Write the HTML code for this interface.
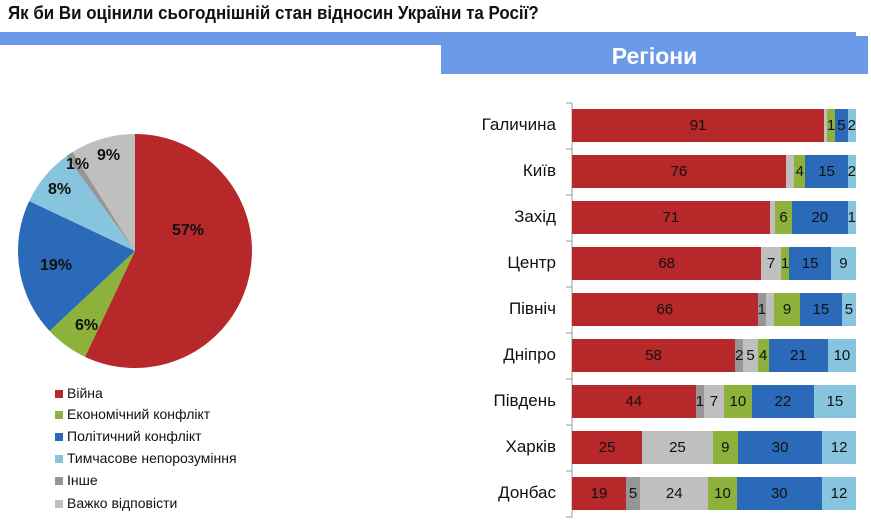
<!DOCTYPE html>
<html><head><meta charset="utf-8"><style>
body{margin:0;width:871px;height:520px;background:#fff;font-family:"Liberation Sans",sans-serif;position:relative;overflow:hidden}
.t{position:absolute;left:8px;top:3px;font-size:18px;font-weight:bold;color:#111;transform:scaleX(.94);transform-origin:left}
.band{position:absolute;left:0;top:32px;width:856px;height:13px;background:#6b9be8}
.box{position:absolute;left:441px;top:36px;width:427px;height:38px;background:#6b9be8;color:#fff;font-weight:bold;font-size:23px;text-align:center;line-height:40px}
.lab{position:absolute;width:200px;left:356px;text-align:right;font-size:17px;color:#111}
.bar{position:absolute;left:572px;width:284px;height:33px;display:flex}
.bar div{height:100%;display:flex;align-items:center;justify-content:center;font-size:15px;color:#111;overflow:visible;white-space:nowrap}
.r{background:#b7282a}.d{background:#969696}.l{background:#bfbfbf}.g{background:#8cb23c}.b{background:#2a6ab8}.c{background:#86c5dd}
.lg{position:absolute;left:55px;font-size:14px;color:#111}
.lg span{display:inline-block;width:8px;height:8px;margin-right:4px}
.pl{position:absolute;font-size:16px;font-weight:bold;color:#111}
</style></head><body>
<div class="t">Як би Ви оцінили сьогоднішній стан відносин України та Росії?</div>
<div class="band"></div>
<div class="box">Регіони</div>
<svg style="position:absolute;left:0;top:0" width="871" height="520">
<g transform="translate(135,251) rotate(-90)" fill="none" stroke-width="117">
<circle r="58.5" stroke="#b7282a" stroke-dasharray="209.5 400" stroke-dashoffset="0"/>
<circle r="58.5" stroke="#8cb23c" stroke-dasharray="22.05 400" stroke-dashoffset="-209.5"/>
<circle r="58.5" stroke="#2a6ab8" stroke-dasharray="69.84 400" stroke-dashoffset="-231.57"/>
<circle r="58.5" stroke="#86c5dd" stroke-dasharray="29.41 400" stroke-dashoffset="-301.41"/>
<circle r="58.5" stroke="#969696" stroke-dasharray="3.68 400" stroke-dashoffset="-330.82"/>
<circle r="58.5" stroke="#bfbfbf" stroke-dasharray="33.08 400" stroke-dashoffset="-334.5"/>
</g>
<line x1="572" y1="103" x2="572" y2="517" stroke="#999"/>
<g stroke="#999"><line x1="566" y1="103" x2="572" y2="103"/><line x1="566" y1="149" x2="572" y2="149"/><line x1="566" y1="195" x2="572" y2="195"/><line x1="566" y1="241" x2="572" y2="241"/><line x1="566" y1="287" x2="572" y2="287"/><line x1="566" y1="333" x2="572" y2="333"/><line x1="566" y1="379" x2="572" y2="379"/><line x1="566" y1="425" x2="572" y2="425"/><line x1="566" y1="471" x2="572" y2="471"/><line x1="566" y1="517" x2="572" y2="517"/></g>
</svg>
<div class="pl" style="left:172px;top:222px">57%</div>
<div class="pl" style="left:75px;top:317px">6%</div>
<div class="pl" style="left:40px;top:257px">19%</div>
<div class="pl" style="left:48px;top:181px">8%</div>
<div class="pl" style="left:66px;top:156px">1%</div>
<div class="pl" style="left:97px;top:147px">9%</div>

<div class="lg" style="top:385px"><span class="r"></span>Війна</div>
<div class="lg" style="top:406px"><span class="g"></span>Економічний конфлікт</div>
<div class="lg" style="top:428px"><span class="b"></span>Політичний конфлікт</div>
<div class="lg" style="top:450px"><span class="c"></span>Тимчасове непорозуміння</div>
<div class="lg" style="top:472px"><span class="d"></span>Інше</div>
<div class="lg" style="top:495px"><span class="l"></span>Важко відповісти</div>

<div class="lab" style="top:115px">Галичина</div>
<div class="lab" style="top:161px">Київ</div>
<div class="lab" style="top:207px">Захід</div>
<div class="lab" style="top:253px">Центр</div>
<div class="lab" style="top:299px">Північ</div>
<div class="lab" style="top:345px">Дніпро</div>
<div class="lab" style="top:391px">Південь</div>
<div class="lab" style="top:437px">Харків</div>
<div class="lab" style="top:483px">Донбас</div>

<div class="bar" style="top:109px"><div class="r" style="flex:91">91</div><div class="l" style="flex:1"></div><div class="g" style="flex:1">1</div><div class="b" style="flex:4.5">5</div><div class="c" style="flex:2">2</div></div>
<div class="bar" style="top:155px"><div class="r" style="flex:76">76</div><div class="l" style="flex:3"></div><div class="g" style="flex:4">4</div><div class="b" style="flex:15">15</div><div class="c" style="flex:2">2</div></div>
<div class="bar" style="top:201px"><div class="r" style="flex:71">71</div><div class="l" style="flex:2"></div><div class="g" style="flex:6">6</div><div class="b" style="flex:20">20</div><div class="c" style="flex:1">1</div></div>
<div class="bar" style="top:247px"><div class="r" style="flex:68">68</div><div class="l" style="flex:7">7</div><div class="g" style="flex:1">1</div><div class="b" style="flex:15">15</div><div class="c" style="flex:9">9</div></div>
<div class="bar" style="top:293px"><div class="r" style="flex:66">66</div><div class="d" style="flex:1">1</div><div class="l" style="flex:3"></div><div class="g" style="flex:9">9</div><div class="b" style="flex:15">15</div><div class="c" style="flex:5">5</div></div>
<div class="bar" style="top:339px"><div class="r" style="flex:58">58</div><div class="d" style="flex:1.5">2</div><div class="l" style="flex:5">5</div><div class="g" style="flex:4">4</div><div class="b" style="flex:21">21</div><div class="c" style="flex:10">10</div></div>
<div class="bar" style="top:385px"><div class="r" style="flex:44">44</div><div class="d" style="flex:1">1</div><div class="l" style="flex:7">7</div><div class="g" style="flex:10">10</div><div class="b" style="flex:22">22</div><div class="c" style="flex:15">15</div></div>
<div class="bar" style="top:431px"><div class="r" style="flex:25">25</div><div class="l" style="flex:25">25</div><div class="g" style="flex:9">9</div><div class="b" style="flex:30">30</div><div class="c" style="flex:12">12</div></div>
<div class="bar" style="top:477px"><div class="r" style="flex:19">19</div><div class="d" style="flex:5">5</div><div class="l" style="flex:24">24</div><div class="g" style="flex:10">10</div><div class="b" style="flex:30">30</div><div class="c" style="flex:12">12</div></div>
</body></html>
